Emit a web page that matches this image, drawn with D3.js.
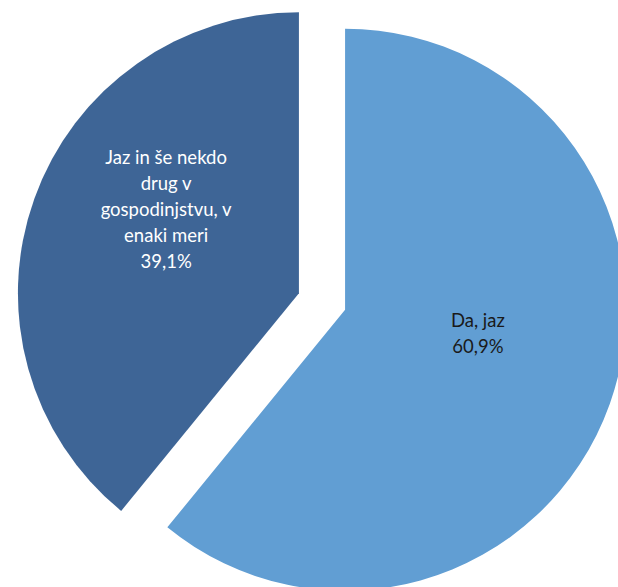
<!DOCTYPE html>
<html>
<head>
<meta charset="utf-8">
<script src="https://cdn.jsdelivr.net/npm/d3@7/dist/d3.min.js"></script>
<style>
  html, body { margin: 0; padding: 0; background: #ffffff; }
  svg { display: block; }
</style>
</head>
<body>
<svg id="chart" width="618" height="587"></svg>
<script>
// Survey answers and their shares (%)
const categories = ["Da, jaz", "Jaz in še nekdo drug v gospodinjstvu, v enaki meri"];
const values = [60.9, 39.1];
const labelLines = [
  ["Da, jaz", "60,9%"],
  ["Jaz in še nekdo", "drug v", "gospodinjstvu, v", "enaki meri", "39,1%"]
];

// Styling
const colors = ["#619ed3", "#3e6596"];
const textColors = ["#1a1a1a", "#ffffff"];
const labelDy = [-23, -36];      // vertical nudge of each label block
const width = 618, height = 587;
const cx = 322, cy = 301.5;      // pie centre before slices are pulled apart
const radius = 281;
const explode = 24.5;            // distance each slice is pulled out
const labelR = 141;
const fontSize = 18.5, lineH = 26;

const svg = d3.select("#chart");

const pie = d3.pie().sort(null).value(d => d.value)
  .startAngle(0).endAngle(2 * Math.PI);
const data = pie(categories.map((c, i) => ({ name: c, value: values[i], i })));

const arc = d3.arc().innerRadius(0).outerRadius(radius);
const labelArc = d3.arc().innerRadius(labelR).outerRadius(labelR);

const g = svg.append("g").attr("transform", `translate(${cx},${cy})`);

const slice = g.selectAll("g.slice").data(data).join("g")
  .attr("class", "slice")
  .attr("transform", d => {
    const a = (d.startAngle + d.endAngle) / 2;
    return `translate(${Math.sin(a) * explode},${-Math.cos(a) * explode})`;
  });

slice.append("path")
  .attr("d", arc)
  .attr("fill", d => colors[d.data.i]);

slice.each(function (d) {
  const [lx, ly0] = labelArc.centroid(d);
  const lines = labelLines[d.data.i];
  const ly = ly0 + labelDy[d.data.i];
  const t = d3.select(this).append("text")
    .attr("text-anchor", "middle")
    .attr("font-family", "Lato, 'Open Sans', sans-serif")
    .attr("font-size", fontSize)
    .attr("fill", textColors[d.data.i]);
  lines.forEach((s, k) => {
    t.append("tspan")
      .attr("x", lx)
      .attr("y", ly + (k - (lines.length - 1) / 2) * lineH)
      .attr("dy", "0.33em")
      .text(s);
  });
});
</script>
</body>
</html>
